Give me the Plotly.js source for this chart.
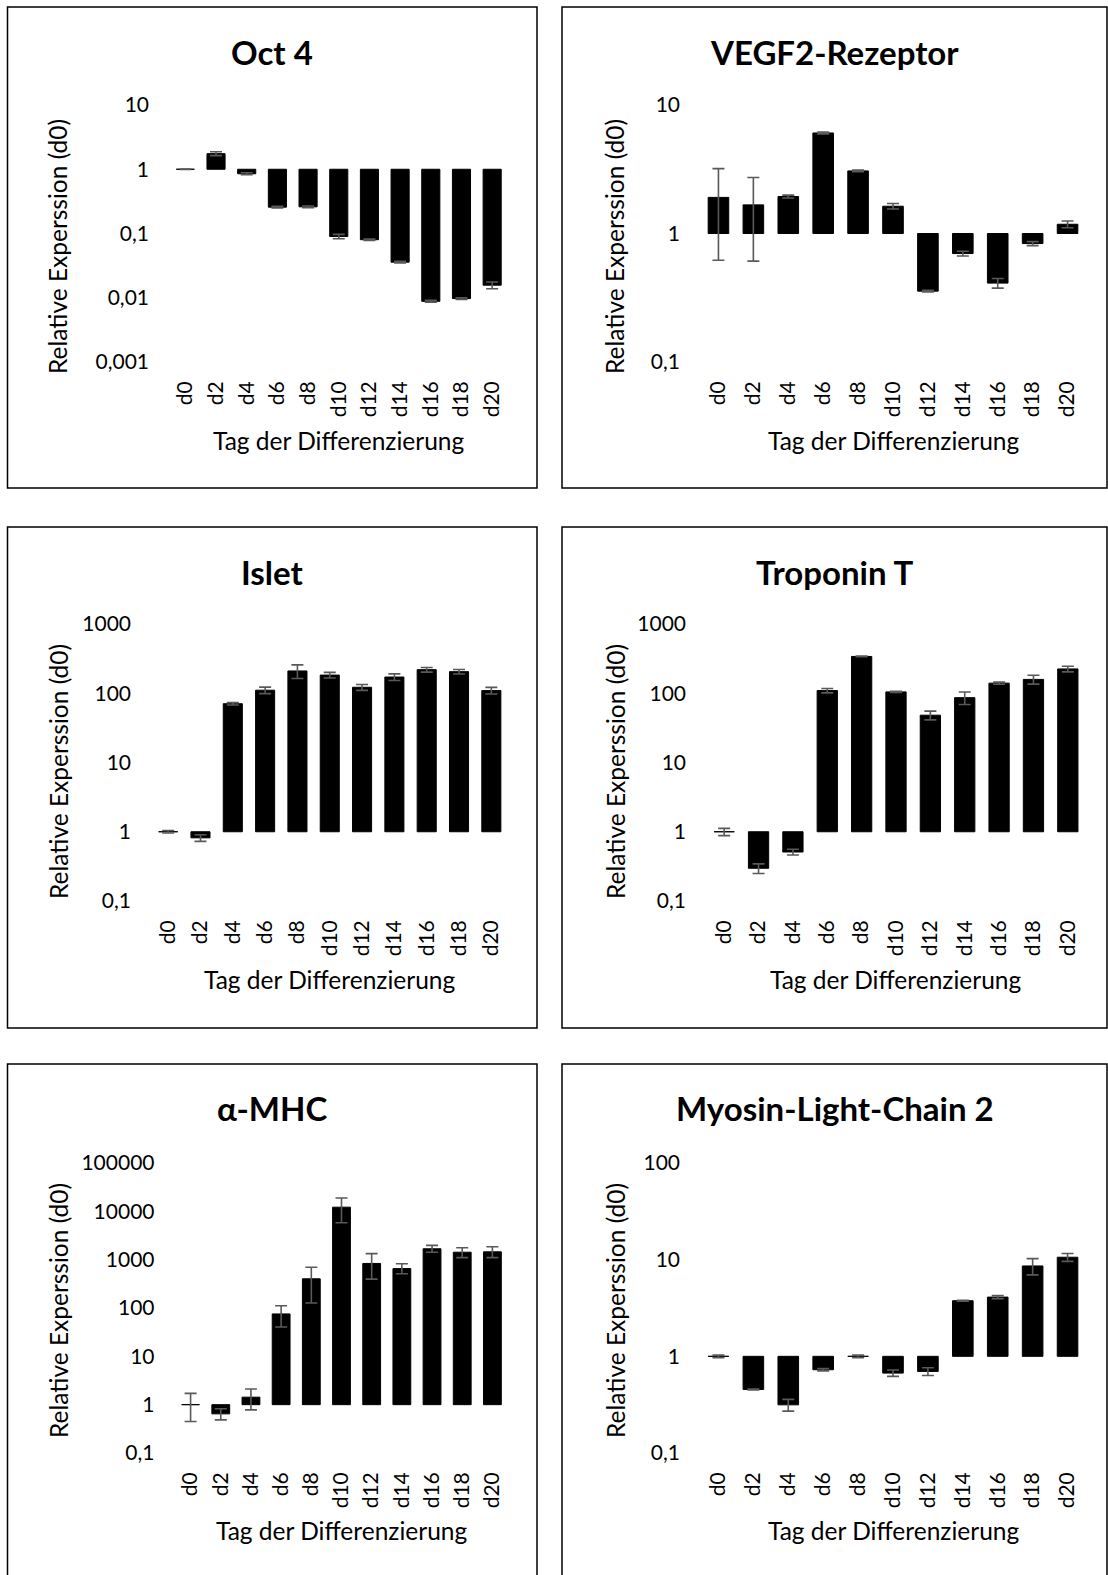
<!DOCTYPE html>
<html><head><meta charset="utf-8">
<script src="https://cdn.plot.ly/plotly-3.0.1.min.js"></script>
<style>html,body{margin:0;padding:0;background:#fff}#chart{width:1108px;height:1575px}</style>
</head><body><div id="chart"></div>
<script>
// ---- categories ----
const days = ['d0','d2','d4','d6','d8','d10','d12','d14','d16','d18','d20'];

// ---- series values (relative expression vs d0) ----
const oct4Values  = [1.0, 1.75, 0.85, 0.257, 0.26, 0.090, 0.080, 0.0358, 0.0088, 0.0097, 0.0157];
const oct4Err     = [0.01, 0.12, 0.03, 0.008, 0.008, 0.007, 0.002, 0.001, 0.0003, 0.0003, 0.0019];

const vegfValues  = [1.91, 1.67, 1.94, 6.06, 3.07, 1.63, 0.356, 0.698, 0.411, 0.835, 1.18];
const vegfErr     = [1.29, 1.06, 0.05, 0.10, 0.05, 0.08, 0.005, 0.03, 0.035, 0.03, 0.07];

const isletValues = [1.0, 0.817, 70.6, 110.7, 210, 183, 122, 171.5, 219, 205, 109.4];
const isletErr    = [0.04, 0.09, 3, 12, 47, 17, 12, 19, 17, 15, 12];

const tntValues   = [1.0, 0.297, 0.51, 109.4, 340, 104.6, 48.2, 86.4, 140, 158.5, 224.5];
const tntErr      = [0.12, 0.047, 0.048, 8, 4, 2, 7, 17.6, 5, 23, 21];

const mhcValues   = [1.0, 0.645, 1.43, 75.4, 402, 12190, 835, 654, 1680, 1428, 1452];
const mhcErrPlus  = [0.71, 0.18, 0.68, 36, 296, 6700, 500, 168, 300, 335, 398];
const mhcErrMinus = [0.55, 0.16, 0.65, 35, 275, 6400, 440, 141, 252, 327, 351];

const mlcValues   = [1.0, 0.454, 0.315, 0.727, 1.0, 0.671, 0.698, 3.76, 4.10, 8.61, 10.6];
const mlcErr      = [0.03, 0.005, 0.044, 0.02, 0.03, 0.05, 0.065, 0.05, 0.15, 1.65, 1.0];

// ---- tick values / labels ----
const oct4Ticks = [0.001, 0.01, 0.1, 1, 10];
const oct4TickText = ['0,001', '0,01', '0,1', '1', '10'];
const vegfTicks = [0.1, 1, 10];
const vegfTickText = ['0,1', '1', '10'];
const kiloTicks = [0.1, 1, 10, 100, 1000];
const kiloTickText = ['0,1', '1', '10', '100', '1000'];
const mhcTicks = [0.1, 1, 10, 100, 1000, 10000, 100000];
const mhcTickText = ['0,1', '1', '10', '100', '1000', '10000', '100000'];
const mlcTicks = [0.1, 1, 10, 100];
const mlcTickText = ['0,1', '1', '10', '100'];

const titles = ['Oct 4', 'VEGF2-Rezeptor', 'Islet', 'Troponin T', 'α-MHC', 'Myosin-Light-Chain 2'];
const xTitle = 'Tag der Differenzierung';
const yTitle = 'Relative Experssion (d0)';

// ---- layout (pixels) ----
const W = 1108, H = 1575;
const FONT = 'Lato, "Open Sans", sans-serif';
const TICK_SIZE = 21, AXIS_TITLE_SIZE = 24.5, TITLE_SIZE = 33;
const panels = [
  {vals: oct4Values, ep: oct4Err, em: oct4Err, tv: oct4Ticks, tt: oct4TickText, range: [-3, 1],
   box: [7.5, 7, 537, 488], plot: [170, 105, 507.5, 362], titleY: 52, yTX: 58, yTY: 247, xTY: 440},
  {vals: vegfValues, ep: vegfErr, em: vegfErr, tv: vegfTicks, tt: vegfTickText, range: [-1, 1],
   box: [562, 7, 1107, 488], plot: [701, 105, 1085, 362], titleY: 52, yTX: 615, yTY: 247, xTY: 440},
  {vals: isletValues, ep: isletErr, em: isletErr, tv: kiloTicks, tt: kiloTickText, range: [-1, 3],
   box: [7.5, 527, 537, 1028], plot: [152, 624, 507.5, 901], titleY: 572, yTX: 58, yTY: 772, xTY: 979},
  {vals: tntValues, ep: tntErr, em: tntErr, tv: kiloTicks, tt: kiloTickText, range: [-1, 3],
   box: [562, 527, 1107, 1028], plot: [707, 624, 1085, 901], titleY: 572, yTX: 615, yTY: 772, xTY: 979},
  {vals: mhcValues, ep: mhcErrPlus, em: mhcErrMinus, tv: mhcTicks, tt: mhcTickText, range: [-1, 5],
   box: [7.5, 1064, 537, 1590], plot: [175.5, 1163, 507.5, 1453], titleY: 1108, yTX: 58, yTY: 1311, xTY: 1530},
  {vals: mlcValues, ep: mlcErr, em: mlcErr, tv: mlcTicks, tt: mlcTickText, range: [-1, 2],
   box: [562, 1064, 1107, 1590], plot: [701, 1163, 1085, 1453], titleY: 1108, yTX: 615, yTY: 1311, xTY: 1530}
];

const px = v => v / W;
const py = v => 1 - v / H;

const data = [];
const layout = {
  width: W, height: H,
  margin: {l: 0, r: 0, t: 0, b: 0},
  paper_bgcolor: '#fff', plot_bgcolor: 'rgba(0,0,0,0)',
  showlegend: false, bargap: 0.41,
  font: {family: FONT, color: '#000'},
  shapes: [], annotations: []
};

panels.forEach((p, i) => {
  const s = i === 0 ? '' : String(i + 1);
  data.push({
    type: 'bar', x: days, y: p.vals.map(v => v - 1), base: 1,
    xaxis: 'x' + s, yaxis: 'y' + s,
    marker: {color: '#000', line: {color: '#000', width: 1}},
    hoverinfo: 'skip'
  });
  data.push({
    type: 'scatter', mode: 'markers', x: days, y: p.vals,
    xaxis: 'x' + s, yaxis: 'y' + s,
    marker: {size: 1, opacity: 0},
    error_y: {type: 'data', symmetric: false, array: p.ep, arrayminus: p.em,
              color: '#595959', thickness: 1.6, width: 6},
    hoverinfo: 'skip'
  });
  layout['xaxis' + s] = {
    domain: [px(p.plot[0]), px(p.plot[2])], anchor: 'y' + s,
    type: 'category', range: [-0.5, 10.5], tickangle: -90,
    showgrid: false, zeroline: false, showline: false, ticks: '',
    ticklabelstandoff: 14,
    tickfont: {family: FONT, size: TICK_SIZE, color: '#000'}, fixedrange: true
  };
  layout['yaxis' + s] = {
    domain: [py(p.plot[3]), py(p.plot[1])], anchor: 'x' + s,
    type: 'log', range: p.range, tickvals: p.tv, ticktext: p.tt,
    showgrid: false, zeroline: false, showline: false, ticks: '',
    ticklabelstandoff: 20,
    tickfont: {family: FONT, size: TICK_SIZE, color: '#000'}, fixedrange: true
  };
  layout.shapes.push({
    type: 'rect', xref: 'paper', yref: 'paper',
    x0: px(p.box[0]), x1: px(p.box[2]), y0: py(p.box[3]), y1: py(p.box[1]),
    line: {color: '#000', width: 1.5}, fillcolor: 'rgba(0,0,0,0)', layer: 'below'
  });
  layout.shapes.push({
    type: 'line', xref: 'x' + s + ' domain', yref: 'y' + s,
    x0: 0, x1: 1, y0: 0, y1: 0,
    line: {color: '#d9d9d9', width: 1.5}, layer: 'above'
  });
  layout.annotations.push({
    xref: 'paper', yref: 'paper', x: px((p.box[0] + p.box[2]) / 2), y: py(p.titleY),
    xanchor: 'center', yanchor: 'middle', showarrow: false,
    text: '<b>' + titles[i] + '</b>', font: {family: FONT, size: TITLE_SIZE, color: '#000'}
  });
  layout.annotations.push({
    xref: 'paper', yref: 'paper', x: px((p.plot[0] + p.plot[2]) / 2), y: py(p.xTY),
    xanchor: 'center', yanchor: 'middle', showarrow: false,
    text: xTitle, font: {family: FONT, size: AXIS_TITLE_SIZE, color: '#000'}
  });
  layout.annotations.push({
    xref: 'paper', yref: 'paper', x: px(p.yTX), y: py(p.yTY),
    xanchor: 'center', yanchor: 'middle', showarrow: false, textangle: -90,
    text: yTitle, font: {family: FONT, size: AXIS_TITLE_SIZE, color: '#000'}
  });
});

Plotly.newPlot('chart', data, layout, {staticPlot: true, displayModeBar: false});
</script>
</body></html>
